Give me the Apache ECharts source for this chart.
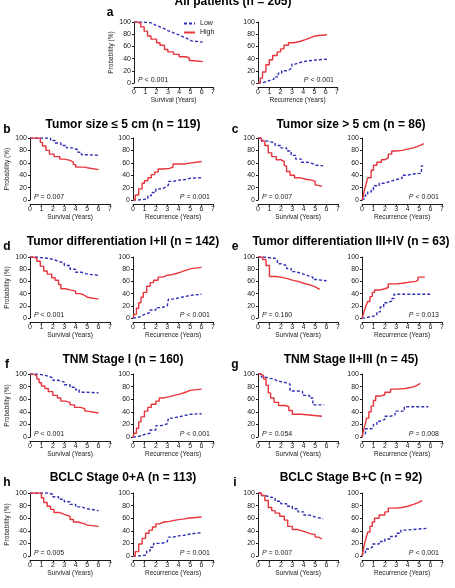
<!DOCTYPE html>
<html>
<head>
<meta charset="utf-8">
<script src="https://cdn.jsdelivr.net/npm/echarts@6/dist/echarts.min.js"></script>
<style>
  html, body { margin: 0; padding: 0; background: #fff; }
  #chart { width: 455px; height: 588px; }
</style>
</head>
<body>
<div id="chart"></div>
<script>
// Kaplan-Meier curves: [years, percent]
// survival = overall survival, recurrence = cumulative recurrence
const aSurvLow = [[0,100],[0.6,99],[1.4,98],[1.6,95],[1.9,92],[2.3,89],[2.7,86],[3,83],[3.4,80],[3.8,77],[4.2,74],[4.6,71],[4.9,69],[5.1,67],[6.1,67]]
const aSurvHigh = [[0,100],[0.3,98],[0.6,92],[0.9,85],[1.2,77],[1.5,72],[2,66],[2.3,62],[2.7,55],[3,51],[3.5,47],[4,43],[4.6,41],[4.9,37],[5.1,35],[6.1,35]]
const aRecLow = [[0,0],[0.3,2],[0.7,4],[1,6],[1.4,10],[1.8,16],[2.1,20],[2.5,22],[2.8,25],[3,31],[3.3,34],[3.8,36],[4.3,37],[4.8,38],[5.2,39],[6.1,39]]
const aRecHigh = [[0,0],[0.2,8],[0.4,18],[0.7,30],[1,38],[1.3,45],[1.7,51],[2,56],[2.3,62],[2.7,66],[3.2,68],[3.7,71],[4.2,74],[4.6,77],[5,79],[6.1,79]]

const bSurvLow = [[0,100],[1.5,100],[1.8,96],[2.2,92],[2.7,88],[3.2,84],[3.7,81],[4.2,77],[4.5,73],[5,72],[6,72]]
const bSurvHigh = [[0,100],[0.7,100],[0.9,93],[1.1,87],[1.4,80],[1.7,74],[2.1,70],[2.6,66],[3,64],[3.5,61],[3.8,57],[4,53],[4.8,52],[5,49],[6,49]]
const bRecLow = [[0,0],[0.5,1],[1,2],[1.3,7],[1.6,12],[2,18],[2.5,21],[2.9,24],[3.1,30],[3.5,32],[4,33],[4.6,35],[5,36],[6,36]]
const bRecHigh = [[0,0],[0.2,8],[0.5,18],[0.8,27],[1,31],[1.3,36],[1.6,41],[1.9,45],[2.2,50],[2.7,51],[3.2,53],[3.5,58],[4.5,59],[4.8,62],[6,62]]

const cSurvLow = [[0,100],[0.3,96],[0.6,94],[1,92],[1.5,88],[2,84],[2.5,79],[2.9,72],[3.3,66],[3.8,61],[4.3,58],[4.9,56],[5.1,55],[5.7,55]]
const cSurvHigh = [[0,100],[0.3,95],[0.6,88],[0.9,76],[1.2,70],[1.6,65],[2,62],[2.3,55],[2.5,46],[2.8,40],[3.2,36],[3.6,33],[4.3,32],[4.7,30],[5,24],[5.2,22],[5.6,22]]
const cRecLow = [[0,0],[0.1,3],[0.3,8],[0.5,13],[0.8,17],[1,23],[1.5,27],[2,30],[2.5,33],[3,35],[3.5,40],[4,42],[4.5,43],[5.2,55],[5.5,55]]
const cRecHigh = [[0,0],[0.1,5],[0.2,15],[0.35,25],[0.5,36],[0.8,48],[1,56],[1.3,61],[1.7,65],[2,68],[2.3,74],[2.6,79],[3,80],[3.5,82],[4,84],[4.5,86],[4.8,89],[5.2,91],[5.4,91]]

const dSurvLow = [[0,100],[0.5,99],[1,98],[1.5,96],[2,93],[2.5,90],[3,86],[3.5,80],[4,75],[4.5,72],[5,70],[6,70]]
const dSurvHigh = [[0,100],[0.3,98],[0.6,93],[0.9,85],[1.2,77],[1.5,72],[1.9,66],[2.2,62],[2.5,55],[2.7,48],[3.1,46],[3.5,44],[4,40],[4.4,37],[4.8,34],[5,31],[6,30]]
const dRecLow = [[0,0],[0.3,3],[0.7,6],[1,9],[1.5,13],[2,17],[2.5,20],[3,22],[3.1,31],[3.5,33],[4,35],[4.5,37],[5,39],[6,39]]
const dRecHigh = [[0,0],[0.1,6],[0.3,16],[0.5,25],[0.7,34],[0.9,42],[1.2,52],[1.5,58],[1.8,62],[2.2,67],[2.6,70],[3,71],[3.4,73],[3.8,76],[4.3,79],[4.7,81],[5.1,83],[6,83]]

const eSurvLow = [[0,100],[0.5,98],[1.3,98],[1.5,95],[1.7,89],[2,86],[2.5,81],[2.9,76],[3.3,73],[3.8,70],[4.3,67],[4.8,63],[5.1,61],[6,61]]
const eSurvHigh = [[0,100],[0.4,96],[0.7,86],[1,68],[1.6,67],[2,65],[2.5,62],[3,60],[3.5,57],[4,54],[4.6,51],[5,49],[5.2,47],[5.4,47]]
const eRecLow = [[0,0],[0.2,2],[0.7,3],[1,5],[1.3,10],[1.6,18],[1.9,25],[2.3,28],[2.6,32],[2.8,39],[3.5,39],[6,39]]
const eRecHigh = [[0,0],[0.1,5],[0.2,12],[0.35,20],[0.5,27],[0.7,35],[0.9,42],[1.1,46],[1.6,48],[2,50],[2.3,56],[3,57],[3.5,60],[4.7,62],[4.9,67],[5.5,67]]

const fSurvLow = [[0,100],[0.6,99],[1,97],[1.5,94],[2,90],[2.5,87],[3,83],[3.5,79],[4,75],[4.3,71],[5,70],[6,70]]
const fSurvHigh = [[0,100],[0.3,97],[0.6,92],[0.8,86],[1,81],[1.3,77],[1.6,72],[2,66],[2.4,62],[2.7,57],[3.1,55],[3.5,51],[3.9,47],[4.4,45],[4.8,41],[5,38],[6,37]]
const fRecLow = [[0,0],[0.3,2],[0.7,4],[1,6],[1.5,11],[2,18],[2.5,21],[3,22],[3.1,30],[3.5,32],[4,34],[4.5,36],[5,37],[6,37]]
const fRecHigh = [[0,0],[0.1,6],[0.3,14],[0.5,24],[0.7,32],[1,41],[1.3,47],[1.6,52],[2,57],[2.3,62],[2.7,64],[3.2,66],[3.6,68],[4.1,71],[4.6,74],[5,76],[6,76]]

const gSurvLow = [[0,100],[0.3,95],[0.6,93],[1.1,92],[1.4,89],[1.7,86],[2.5,84],[2.8,73],[3.7,72],[3.9,66],[4.5,62],[4.8,51],[5.8,51]]
const gSurvHigh = [[0,100],[0.3,97],[0.5,92],[0.7,82],[0.9,70],[1.1,62],[1.4,55],[1.8,50],[2.4,48],[2.7,42],[3,36],[3.8,33],[5.6,33]]
const gRecLow = [[0,0],[0.1,5],[0.3,13],[0.8,15],[1,20],[1.3,25],[1.6,28],[2,33],[2.5,35],[2.9,41],[3.7,48],[5.8,49]]
const gRecHigh = [[0,0],[0.1,8],[0.25,18],[0.4,30],[0.6,40],[0.8,49],[1,58],[1.2,65],[1.6,67],[2,71],[2.5,76],[3,77],[3.8,80],[4.6,82],[4.8,85],[5.1,85]]

const hSurvLow = [[0,100],[1.4,100],[1.6,98],[2,94],[2.5,90],[3,86],[3.5,82],[4,78],[4.5,75],[5,72],[6,71]]
const hSurvHigh = [[0,100],[0.8,100],[1,92],[1.2,85],[1.5,79],[1.8,74],[2.1,69],[2.6,66],[3,63],[3.5,58],[3.8,54],[4.2,51],[4.8,49],[5,47],[6,47]]
const hRecLow = [[0,0],[0.5,1],[1,2],[1.2,8],[1.5,14],[1.8,20],[2.5,23],[3,26],[3.1,30],[3.5,32],[4,33],[4.5,35],[5,37],[6,37]]
const hRecHigh = [[0,0],[0.2,7],[0.5,19],[0.8,28],[1.1,36],[1.4,41],[1.7,46],[2,51],[2.3,54],[2.7,55],[3.2,57],[3.7,59],[4.5,60],[4.8,62],[6,62]]

const iSurvLow = [[0,100],[0.3,96],[0.6,94],[1,92],[1.5,87],[2,83],[2.5,79],[3,75],[3.5,70],[4,65],[4.5,62],[5,59],[5.7,58]]
const iSurvHigh = [[0,100],[0.3,96],[0.6,88],[0.9,77],[1.2,72],[1.5,68],[1.9,63],[2.3,57],[2.6,47],[3,42],[3.5,39],[4,36],[4.5,34],[5,30],[5.3,27],[5.6,26]]
const iRecLow = [[0,0],[0.1,5],[0.3,11],[0.6,14],[0.9,19],[1.5,23],[2,27],[2.5,31],[3,36],[3.4,41],[3.8,44],[5.7,44]]
const iRecHigh = [[0,0],[0.1,8],[0.2,18],[0.35,28],[0.5,38],[0.7,47],[0.9,54],[1.1,60],[1.5,65],[2,70],[2.3,76],[3,77],[3.5,79],[4,82],[4.5,84],[4.8,87],[5.2,89]]

const panelLetters = ['a', 'b', 'c', 'd', 'e', 'f', 'g', 'h', 'i']
const panelTitles = [
  'All patients (n = 205)',
  'Tumor size \u2264 5 cm (n = 119)',
  'Tumor size > 5 cm (n = 86)',
  'Tumor differentiation I+II (n = 142)',
  'Tumor differentiation III+IV (n = 63)',
  'TNM Stage I (n = 160)',
  'TNM Stage II+III (n = 45)',
  'BCLC Stage 0+A (n = 113)',
  'BCLC Stage B+C (n = 92)'
]
// p-values (text after the italic P)
const survivalP = ['< 0.001', '= 0.007', '= 0.007', '< 0.001', '= 0.160', '< 0.001', '= 0.054', '= 0.005', '= 0.007']
const recurrenceP = ['< 0.001', '= 0.001', '< 0.001', '< 0.001', '= 0.013', '< 0.001', '= 0.008', '= 0.001', '< 0.001']
const groupNames = ['Low', 'High']
const xTicks = [0, 7, 1]        // min, max, step (years)
const yTicks = [0, 100, 20]     // min, max, step (%)

const curves = [
  [aSurvLow, aSurvHigh, aRecLow, aRecHigh],
  [bSurvLow, bSurvHigh, bRecLow, bRecHigh],
  [cSurvLow, cSurvHigh, cRecLow, cRecHigh],
  [dSurvLow, dSurvHigh, dRecLow, dRecHigh],
  [eSurvLow, eSurvHigh, eRecLow, eRecHigh],
  [fSurvLow, fSurvHigh, fRecLow, fRecHigh],
  [gSurvLow, gSurvHigh, gRecLow, gRecHigh],
  [hSurvLow, hSurvHigh, hRecLow, hRecHigh],
  [iSurvLow, iSurvHigh, iRecLow, iRecHigh]
]

// ---- layout (pixels) ----
const FONT = 'Arial, "Liberation Sans", Helvetica, sans-serif'
const BLUE = '#2f2fb4'
const RED = '#e8343c'
const INK = '#1a1a1a'
const rowTop = [22, 138, 257, 374, 493]
const rowH = [61, 62, 61, 63, 63]
const titleY = [2, 125, 242, 360, 478]
const letterY = [13, 130, 247, 365, 483]

const grids = []
const xAxes = []
const yAxes = []
const series = []
const graphics = []

curves.forEach(function (c, k) {
  const row = k === 0 ? 0 : 1 + Math.floor((k - 1) / 2)
  const col = k === 0 ? -1 : (k - 1) % 2
  const lefts = k === 0 ? [134, 258] : col === 0 ? [30, 133] : [258, 362]
  const w = k === 0 ? 79 : 80
  const top = rowTop[row]
  const h = rowH[row]

  for (let j = 0; j < 2; j++) {
    const gi = grids.length
    grids.push({ left: lefts[j], top: top, width: w, height: h, containLabel: false, outerBoundsMode: 'none' })
    xAxes.push({
      gridIndex: gi, type: 'value', min: xTicks[0], max: xTicks[1], interval: xTicks[2],
      offset: 4,
      name: j ? 'Recurrence (Years)' : 'Survival (Years)',
      nameLocation: 'middle', nameGap: 10,
      nameTextStyle: { fontSize: 6.5, color: INK, fontFamily: FONT },
      axisLine: { onZero: false, lineStyle: { color: INK, width: 1 } },
      axisTick: { length: 2, lineStyle: { color: INK } },
      axisLabel: { fontSize: 7, margin: 2, color: INK, fontFamily: FONT },
      splitLine: { show: false }
    })
    yAxes.push({
      gridIndex: gi, type: 'value', min: yTicks[0], max: yTicks[1], interval: yTicks[2],
      name: (j === 0 && col <= 0) ? 'Probability (%)' : '',
      nameLocation: 'middle', nameGap: 19,
      nameTextStyle: { fontSize: 6.5, color: INK, fontFamily: FONT },
      axisLine: { show: true, lineStyle: { color: INK, width: 1 } },
      axisTick: { show: true, length: 2, lineStyle: { color: INK } },
      axisLabel: { fontSize: 7, margin: 3, color: INK, fontFamily: FONT },
      splitLine: { show: false }
    })
    series.push({
      name: groupNames[0], type: 'line', step: 'end', xAxisIndex: gi, yAxisIndex: gi,
      data: c[j * 2], symbol: 'none', silent: true,
      lineStyle: { color: BLUE, width: 1.4, type: [3, 2] }, itemStyle: { color: BLUE }, z: 2
    })
    series.push({
      name: groupNames[1], type: 'line', step: 'end', xAxisIndex: gi, yAxisIndex: gi,
      data: c[j * 2 + 1], symbol: 'none', silent: true,
      lineStyle: { color: RED, width: 1.4 }, itemStyle: { color: RED }, z: 3
    })

    // p-value: survival bottom-left, recurrence bottom-right
    const pText = j ? recurrenceP[k] : survivalP[k]
    graphics.push({
      type: 'text',
      x: j ? lefts[j] + w - 3 : lefts[j] + 4,
      y: top + h - 3,
      style: {
        text: '{i|P} ' + pText,
        rich: { i: { fontStyle: 'italic', fontSize: 7, fontFamily: FONT, fill: INK } },
        fontSize: 7, fontFamily: FONT, fill: INK,
        align: j ? 'right' : 'left', verticalAlign: 'middle'
      }
    })
  }

  graphics.push({
    type: 'text',
    x: k === 0 ? 233 : col === 0 ? 123 : 351,
    y: titleY[row],
    style: {
      text: panelTitles[k], fontSize: 12, fontWeight: 'bold', fontFamily: FONT, fill: '#000',
      align: 'center', verticalAlign: 'middle'
    }
  })
  graphics.push({
    type: 'text',
    x: k === 0 ? 110 : col === 0 ? 7 : 235,
    y: letterY[row],
    style: {
      text: panelLetters[k], fontSize: 12, fontWeight: 'bold', fontFamily: FONT, fill: '#000',
      align: 'center', verticalAlign: 'middle'
    }
  })
})

const chart = echarts.init(document.getElementById('chart'), null, { renderer: 'canvas' })
chart.setOption({
  backgroundColor: '#fff',
  animation: false,
  textStyle: { fontFamily: FONT },
  legend: {
    data: groupNames, orient: 'vertical', left: 178, top: 15,
    itemWidth: 11, itemHeight: 6, itemGap: 2,
    // hide the default circle marker so only the line style shows
    itemStyle: { opacity: 0 },
    textStyle: { fontSize: 7, color: INK, fontFamily: FONT },
    selectedMode: false
  },
  grid: grids,
  xAxis: xAxes,
  yAxis: yAxes,
  series: series,
  graphic: graphics
})
</script>
</body>
</html>
